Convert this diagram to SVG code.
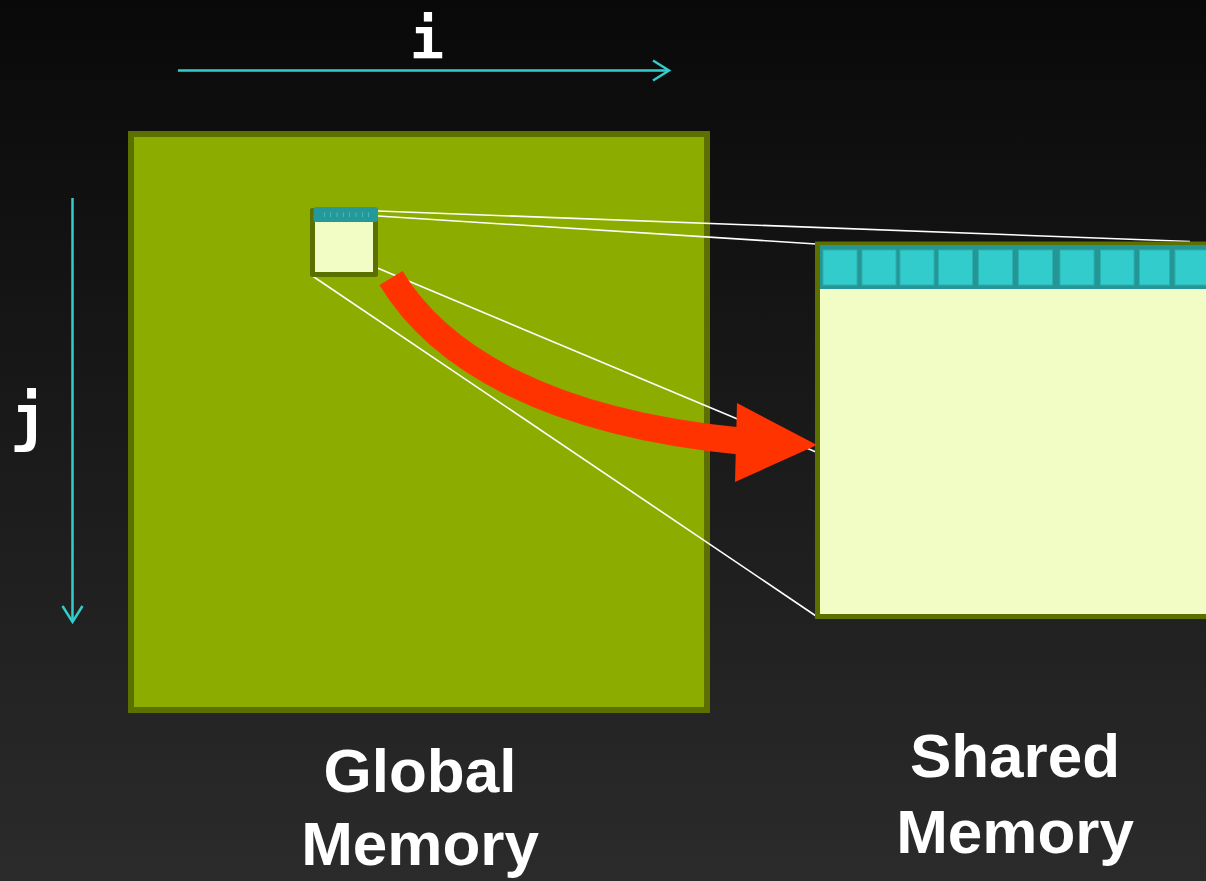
<svg xmlns="http://www.w3.org/2000/svg" width="1206" height="881" viewBox="0 0 1206 881">
  <defs>
    <linearGradient id="bg" x1="0" y1="0" x2="0" y2="1">
      <stop offset="0" stop-color="#090909"/>
      <stop offset="1" stop-color="#2b2b2b"/>
    </linearGradient>
    <style>
      .axis { stroke: #33cccc; stroke-width: 2.5; fill: none; }
      .proj { stroke: #ffffff; stroke-width: 1.6; fill: none; }
      .mono { font-family: "DejaVu Sans Mono", "Liberation Mono", monospace; font-weight: bold; fill: #ffffff; text-anchor: middle; }
      .label { font-family: "Liberation Sans", Arial, sans-serif; font-weight: bold; font-size: 62px; fill: #ffffff; text-anchor: middle; }
      .cell { fill: #33cccc; stroke: #2bb0b0; stroke-width: 1; }
      .tick { stroke: #44bbbb; stroke-width: 1; }
    </style>
  </defs>

  <!-- backdrop -->
  <rect x="0" y="0" width="1206" height="881" fill="url(#bg)"/>

  <!-- index axes -->
  <g id="axis-i">
    <line class="axis" x1="178" y1="70.5" x2="669" y2="70.5"/>
    <polyline class="axis" points="653,60.5 669,70.5 653,80.5"/>
    <text class="mono" x="427" y="58" font-size="57">i</text>
  </g>
  <g id="axis-j">
    <line class="axis" x1="72.5" y1="198" x2="72.5" y2="622"/>
    <polyline class="axis" points="62.5,606 72.5,622 82.5,606"/>
    <text class="mono" x="29" y="439" font-size="62">j</text>
  </g>

  <!-- global memory array -->
  <g id="global-memory">
    <rect x="131" y="134" width="576" height="576" fill="#8cad00" stroke="#5c7000" stroke-width="6"/>
  </g>

  <!-- projection lines from the tile to its shared copy -->
  <g id="connectors">
    <line class="proj" x1="378" y1="211" x2="1190" y2="241.5"/>
    <line class="proj" x1="378" y1="216" x2="816" y2="244"/>
    <line class="proj" x1="375" y1="267" x2="816" y2="452"/>
    <line class="proj" x1="311" y1="275" x2="816" y2="616"/>
  </g>

  <!-- shared memory tile (enlarged) -->
  <g id="shared-memory">
    <rect x="817.5" y="244" width="500" height="372.5" fill="#f2fdc6" stroke="#5c7000" stroke-width="5"/>
    <rect x="820" y="245" width="400" height="44" fill="#259696"/>
    <rect class="cell" x="823" y="250" width="34" height="35"/>
    <rect class="cell" x="862" y="250" width="34" height="35"/>
    <rect class="cell" x="900" y="250" width="34" height="35"/>
    <rect class="cell" x="938.5" y="250" width="34" height="35"/>
    <rect class="cell" x="978.5" y="250" width="34" height="35"/>
    <rect class="cell" x="1018.5" y="250" width="34" height="35"/>
    <rect class="cell" x="1060" y="250" width="34" height="35"/>
    <rect class="cell" x="1100.5" y="250" width="33.5" height="35"/>
    <rect class="cell" x="1139.5" y="250" width="30" height="35"/>
    <rect class="cell" x="1175" y="250" width="34" height="35"/>
  </g>

  <!-- tile inside global memory -->
  <g id="tile">
    <rect x="310" y="208" width="68" height="69" rx="2" fill="#5c7000"/>
    <rect x="315" y="221" width="58" height="51" fill="#f2fdc6"/>
    <rect x="313.5" y="207" width="64.5" height="15" rx="2.5" fill="#259999"/>
    <g class="tick">
      <line x1="324.5" y1="212.5" x2="324.5" y2="217"/>
      <line x1="330.5" y1="212.5" x2="330.5" y2="217"/>
      <line x1="337" y1="212.5" x2="337" y2="217"/>
      <line x1="343.5" y1="212.5" x2="343.5" y2="217"/>
      <line x1="349.5" y1="212.5" x2="349.5" y2="217"/>
      <line x1="356" y1="212.5" x2="356" y2="217"/>
      <line x1="362.5" y1="212.5" x2="362.5" y2="217"/>
      <line x1="368.5" y1="212.5" x2="368.5" y2="217"/>
    </g>
  </g>

  <!-- load arrow: global to shared -->
  <g id="load-arrow">
    <path d="M391,278 C438,356 545,422 740,441" fill="none" stroke="#ff3300" stroke-width="27"/>
    <polygon points="737,403 817,445 735,482" fill="#ff3300"/>
  </g>

  <!-- captions -->
  <g id="captions">
    <text class="label" x="420" y="792">Global</text>
    <text class="label" x="420" y="865">Memory</text>
    <text class="label" x="1015" y="777">Shared</text>
    <text class="label" x="1015" y="853">Memory</text>
  </g>
</svg>
